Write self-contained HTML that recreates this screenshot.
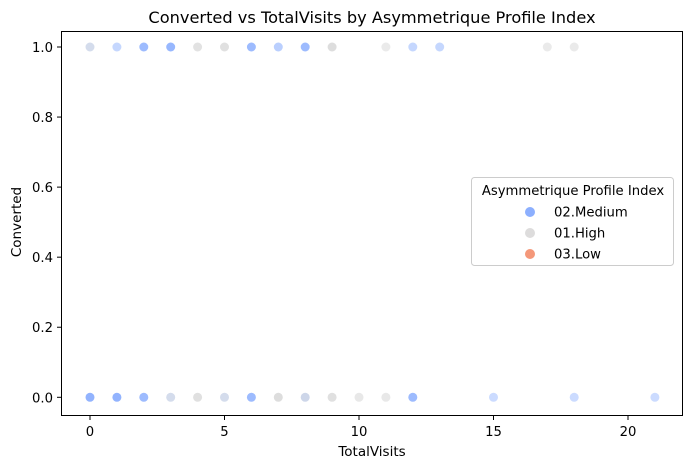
<!DOCTYPE html>
<html><head><meta charset="utf-8"><style>
html,body{margin:0;padding:0;background:#fff;}
svg{display:block;font-family:"DejaVu Sans","Liberation Sans",sans-serif;}
</style></head><body>
<svg id="chart" width="691" height="468" xmlns="http://www.w3.org/2000/svg">
<text x="372" y="23" font-size="16.2" text-anchor="middle">Converted vs TotalVisits by Asymmetrique Profile Index</text>
<g id="marks"></g>
<g id="axes"></g>
<rect x="61.5" y="31.5" width="621" height="384" fill="none" stroke="#000" stroke-width="1"/>
<text x="372" y="456" font-size="13.5" text-anchor="middle">TotalVisits</text>
<text x="21" y="222" font-size="13.5" text-anchor="middle" transform="rotate(-90 21 222)">Converted</text>
<g>
<rect x="471.5" y="177.5" width="202" height="88" rx="3" fill="#fff" stroke="#ccc"/>
<text x="573" y="195" font-size="13.2" text-anchor="middle">Asymmetrique Profile Index</text>
<circle cx="530" cy="212" r="5" fill="#8caffe"/>
<text x="554" y="216.5" font-size="13.2">02.Medium</text>
<circle cx="530" cy="233" r="5" fill="#dddcdc"/>
<text x="554" y="237.5" font-size="13.2">01.High</text>
<circle cx="530" cy="254" r="5" fill="#f4987a"/>
<text x="554" y="258.5" font-size="13.2">03.Low</text>
</g>
</svg>
<script>
const visits = [0,1,2,3,4,5,6,7,8,9,11,12,13,17,18, 0,1,2,3,4,5,6,7,8,9,10,11,12,15,18,21];
const converted = [1,1,1,1,1,1,1,1,1,1,1,1,1,1,1, 0,0,0,0,0,0,0,0,0,0,0,0,0,0,0,0];
const groups = ["mix","med","med","med","high","high","med","med","med","high","high","med","med","high","high",
                "med","med","med","mix","high","mix","med","high","mix","high","high","high","med","med","med","med"];
const strength = [0.6,0.5,0.85,0.9,0.7,0.75,0.85,0.6,0.85,0.8,0.5,0.5,0.5,0.5,0.5,
                  0.95,0.95,0.85,0.6,0.75,0.6,0.85,0.8,0.7,0.75,0.55,0.55,0.85,0.45,0.45,0.45];
const xTicks = [0,5,10,15,20];
const yTicks = [0,0.2,0.4,0.6,0.8,1.0];
const yTickLabels = ["0.0","0.2","0.4","0.6","0.8","1.0"];
const NS="http://www.w3.org/2000/svg";
const xs = v => 90 + v*(628-90)/20;
const ys = v => 397.3 - v*(397.3-47);
const colors = {med:"#8caffe",high:"#d5d5d5",mix:"#b8c4e0"};
const marks=document.getElementById('marks');
for(let i=0;i<visits.length;i++){
  const c=document.createElementNS(NS,'circle');
  c.setAttribute('cx',xs(visits[i]));c.setAttribute('cy',ys(converted[i]));c.setAttribute('r',4.5);
  c.setAttribute('fill',colors[groups[i]]);c.setAttribute('fill-opacity',strength[i]);
  
  
  marks.appendChild(c);
}
const axes=document.getElementById('axes');
xTicks.forEach(t=>{
  const l=document.createElementNS(NS,'line');
  l.setAttribute('x1',xs(t));l.setAttribute('x2',xs(t));l.setAttribute('y1',415.5);l.setAttribute('y2',420);l.setAttribute('stroke','#000');
  
  
  axes.appendChild(l);
  const tx=document.createElementNS(NS,'text');
  tx.setAttribute('x',xs(t));tx.setAttribute('y',436);tx.setAttribute('font-size','13.2');tx.setAttribute('text-anchor','middle');
  tx.textContent=t;
  
  
  axes.appendChild(tx);
});
yTicks.forEach((t,i)=>{
  const l=document.createElementNS(NS,'line');
  l.setAttribute('x1',57);l.setAttribute('x2',61.5);l.setAttribute('y1',ys(t));l.setAttribute('y2',ys(t));l.setAttribute('stroke','#000');
  
  
  axes.appendChild(l);
  const tx=document.createElementNS(NS,'text');
  tx.setAttribute('x',53);tx.setAttribute('y',ys(t)+5);tx.setAttribute('font-size','13.2');tx.setAttribute('text-anchor','end');
  tx.textContent=yTickLabels[i];
  
  
  axes.appendChild(tx);
});
</script>
</body></html>
